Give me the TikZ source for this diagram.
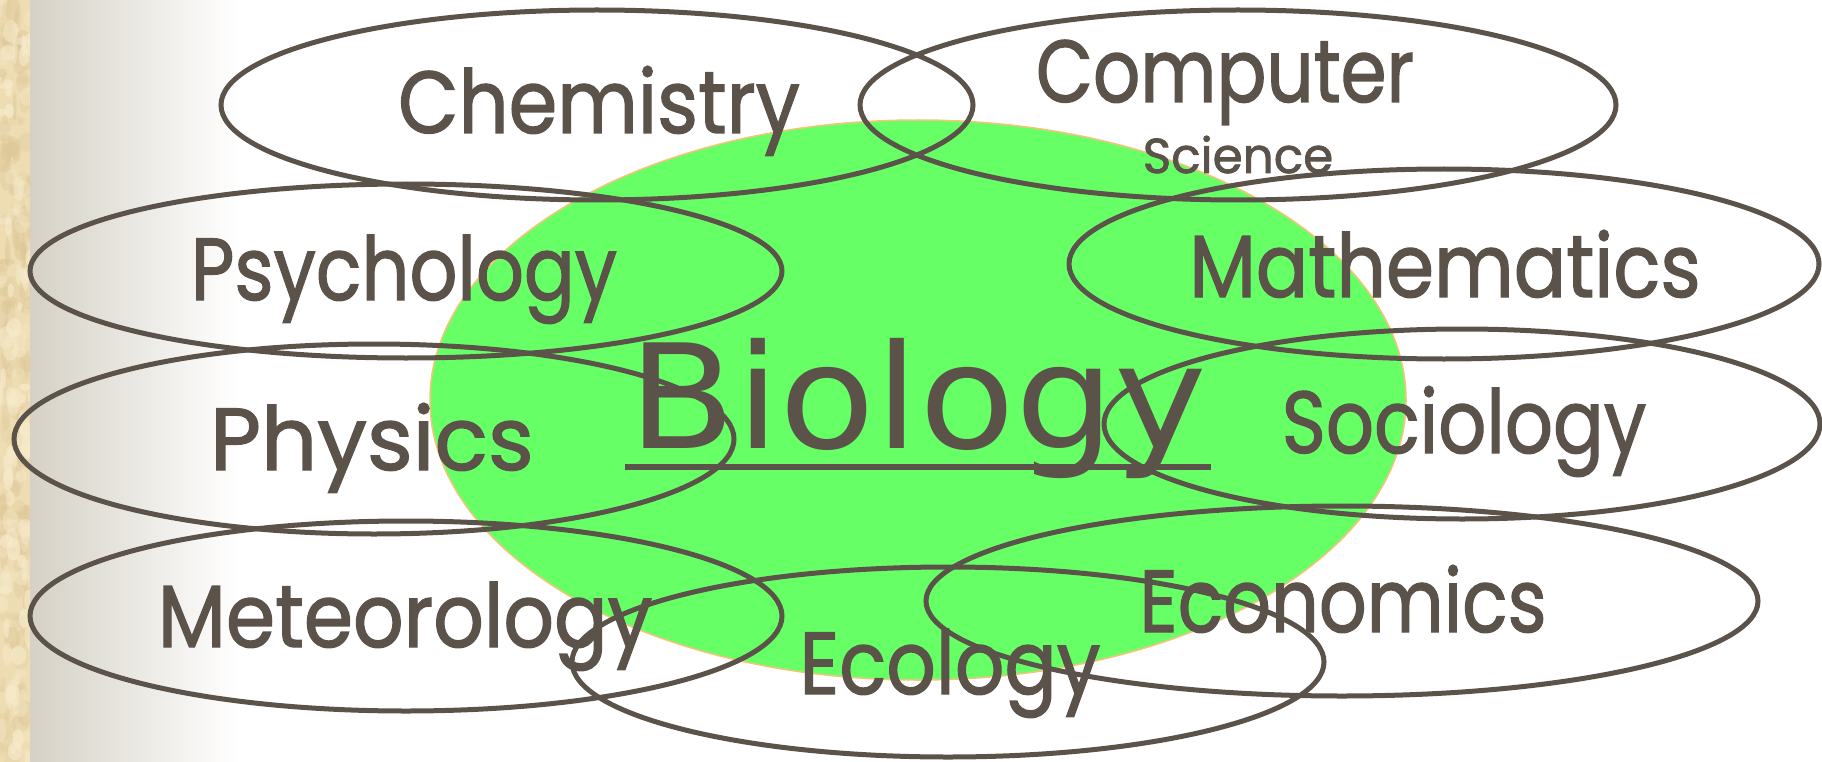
\documentclass[tikz,border=0pt]{standalone}
\usepackage{fontspec}
\newfontfamily\handfont{Poppins}[FakeBold=1.5]
\newfontfamily\bigsans{DejaVu Sans}
\usetikzlibrary{shapes.geometric}
\definecolor{ink}{HTML}{5B534A}
\definecolor{leaf}{HTML}{66FF66}
\definecolor{rim}{HTML}{F8C27A}
\definecolor{paper}{HTML}{EEDDB3}
\definecolor{paperdark}{HTML}{DCC595}
\definecolor{paperlight}{HTML}{F7EBCB}
\definecolor{shade}{HTML}{D5D1C6}
\tikzset{
  field/.style={ellipse, draw=ink, line width=5pt, inner sep=0pt},
  lbl/.style={text=ink, inner sep=0pt, anchor=base, font=\handfont\fontsize{88}{88}\selectfont},
  small/.style={text=ink, inner sep=0pt, anchor=base, font=\handfont\fontsize{49}{49}\selectfont},
}
\newcommand{\squeeze}[2]{\scalebox{#1}[1]{#2}}
\begin{document}
\begin{tikzpicture}[x=1pt,y=-1pt]
\useasboundingbox (0,0) rectangle (1822,762);
% page background: paper strip at the left edge, then soft grey shading
\fill[white] (0,0) rectangle (1822,762);
\shade[left color=shade, right color=white] (30,0) rectangle (240,762);
\begin{scope}
  \clip (0,0) rectangle (30,762);
  \fill[paper] (0,0) rectangle (30,762);
  \pgfmathsetseed{42}
  \foreach \i in {1,...,160}{
    \pgfmathsetmacro{\xx}{30*rnd}
    \pgfmathsetmacro{\yy}{762*rnd}
    \pgfmathsetmacro{\ww}{2+7*rnd}
    \pgfmathsetmacro{\hh}{3+12*rnd}
    \pgfmathsetmacro{\op}{0.15+0.3*rnd}
    \fill[paperdark, opacity=\op] (\xx,\yy) ellipse ({\ww pt} and {\hh pt});
  }
  \foreach \i in {1,...,110}{
    \pgfmathsetmacro{\xx}{30*rnd}
    \pgfmathsetmacro{\yy}{762*rnd}
    \pgfmathsetmacro{\ww}{2+6*rnd}
    \pgfmathsetmacro{\hh}{3+10*rnd}
    \pgfmathsetmacro{\op}{0.3+0.4*rnd}
    \fill[paperlight, opacity=\op] (\xx,\yy) ellipse ({\ww pt} and {\hh pt});
  }
\end{scope}
% central discipline
\node[ellipse, fill=leaf, draw=rim, line width=1.5pt, minimum width=976pt, minimum height=560pt, inner sep=0pt] (bio) at (918,400) {};
% surrounding disciplines
\node[field, minimum width=752pt, minimum height=190pt] (chem) at (597,105) {};
\node[field, minimum width=756pt, minimum height=190pt] (comp) at (1238,105) {};
\node[field, minimum width=752pt, minimum height=174pt] (psy) at (406,271) {};
\node[field, minimum width=750pt, minimum height=190pt] (math) at (1444,264) {};
\node[field, minimum width=720pt, minimum height=190pt] (phys) at (374,439) {};
\node[field, minimum width=716pt, minimum height=190pt] (soc) at (1462,424) {};
\node[field, minimum width=752pt, minimum height=190pt] (met) at (406,616) {};
\node[field, minimum width=832pt, minimum height=190pt] (econ) at (1342,601) {};
\node[field, minimum width=752pt, minimum height=190pt] (eco) at (948,662) {};
% labels
\node[lbl] (tchem) at (599,133) {\squeeze{0.89}{Chemistry}};
\node[lbl] (tcomp) at (1225,102) {\squeeze{0.84}{Computer}};
\node[small] (tsci) at (1238,173) {\squeeze{0.99}{Science}};
\node[lbl] (tpsy) at (404,300) {\squeeze{0.853}{Psychology}};
\node[lbl] (tmath) at (1445,297) {\squeeze{0.88}{Mathematics}};
\node[lbl] (tphys) at (372,470) {\squeeze{1.0}{Physics}};
\node[lbl] (tsoc) at (1464,453) {\squeeze{0.855}{Sociology}};
\node[lbl] (tmet) at (405,647) {\squeeze{0.9}{Meteorology}};
\node[lbl] (tecon) at (1343,632) {\squeeze{0.85}{Economics}};
\node[lbl] (teco) at (950,694) {\squeeze{0.88}{Ecology}};
\node[text=ink, inner sep=0pt, anchor=base, font=\bigsans\fontsize{145}{145}\selectfont] (tbio) at (918,448) {\squeeze{1.08}{Biology}};
\draw[ink, line width=6.5pt] (625,467) -- (1211,467);
\end{tikzpicture}
\end{document}
